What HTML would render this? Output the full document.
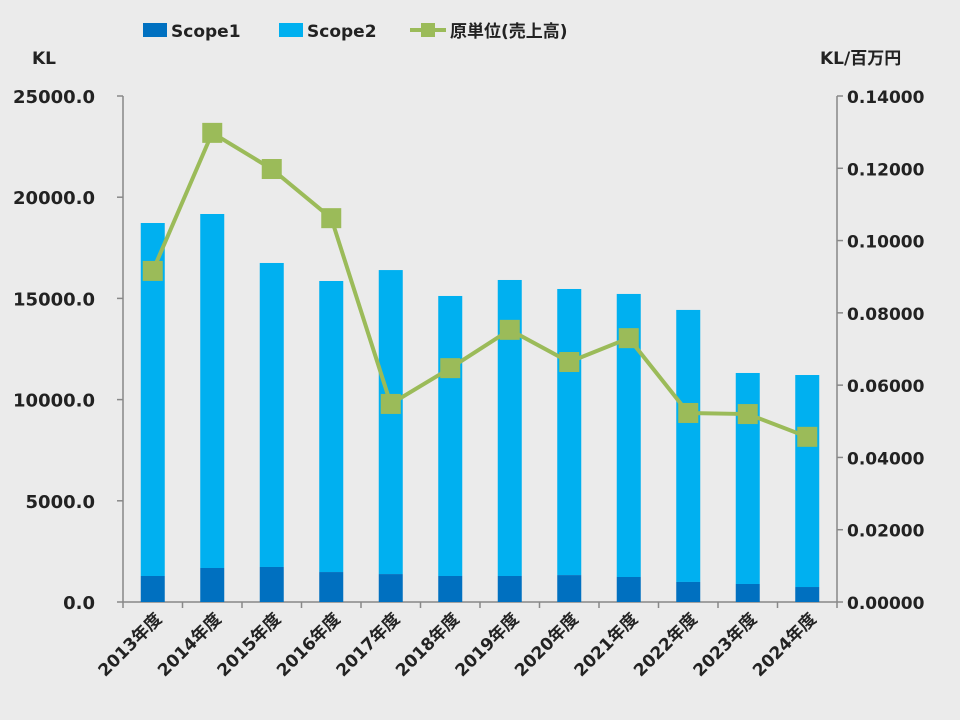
<!DOCTYPE html>
<html><head><meta charset="utf-8">
<style>
html,body{margin:0;padding:0;background:#ebebeb;}
svg{display:block;font-family:"DejaVu Sans","Noto Sans CJK JP",sans-serif;}
</style></head>
<body>
<svg id="chart" width="960" height="720" viewBox="0 0 960 720">
<rect width="960" height="720" fill="#ebebeb"/>
<g id="legend">
 <g>
  <rect x="143" y="23" width="24" height="14" fill="#0070c0"/>
  <text x="171" y="37" font-size="17" font-weight="bold" fill="#222">Scope1</text>
 </g>
 <g>
  <rect x="279" y="23" width="24" height="14" fill="#00b0f0"/>
  <text x="307" y="37" font-size="17" font-weight="bold" fill="#222">Scope2</text>
 </g>
 <g>
  <line x1="410" y1="30" x2="446" y2="30" stroke="#9bbb59" stroke-width="4"/>
  <rect x="421" y="23" width="14" height="14" fill="#9bbb59"/>
  <text x="450" y="37" font-size="17" font-weight="bold" fill="#222">原単位(売上高)</text>
 </g>
</g>
<text x="32" y="64" font-size="17" font-weight="bold" fill="#222">KL</text>
<text x="820" y="64" font-size="17" font-weight="bold" fill="#222">KL/百万円</text>
<g id="axes"></g>
<g id="bars"></g>
<g id="line"></g>
<g id="xlabels"></g>
</svg>
<script>
const categories=["2013年度","2014年度","2015年度","2016年度","2017年度","2018年度","2019年度","2020年度","2021年度","2022年度","2023年度","2024年度"];
const scope1=[1285,1680,1730,1480,1380,1285,1285,1330,1235,990,890,740];
const totals=[18725,19170,16750,15860,16400,15120,15910,15465,15220,14430,11315,11215];
const intensity=[0.0916,0.1298,0.1198,0.1062,0.0548,0.0647,0.0753,0.0664,0.0730,0.0523,0.0520,0.0457];
const leftTicks=[0,5000,10000,15000,20000,25000];
const rightTicks=[0,0.02,0.04,0.06,0.08,0.10,0.12,0.14];

const NS="http://www.w3.org/2000/svg";
const X0=123,X1=837,Y0=602,Y1=96;
const yL=v=>Y0-(v/25000)*(Y0-Y1);
const yR=v=>Y0-(v/0.14)*(Y0-Y1);
const step=(X1-X0)/categories.length;
const xC=i=>X0+step*(i+0.5);
function mk(tag,attrs,parent){const e=document.createElementNS(NS,tag);for(const k in attrs)e.setAttribute(k,attrs[k]);parent.appendChild(e);return e;}

const axes=document.getElementById('axes');
let a=mk('line',{x1:X0,y1:Y1,x2:X0,y2:Y0,stroke:'#888','stroke-width':1.5},axes);


a=mk('line',{x1:X1,y1:Y1,x2:X1,y2:Y0,stroke:'#888','stroke-width':1.5},axes);


a=mk('line',{x1:X0,y1:Y0,x2:X1,y2:Y0,stroke:'#888','stroke-width':1.5},axes);


leftTicks.forEach(v=>{
 const y=yL(v);
 mk('line',{x1:X0-6,y1:y,x2:X0,y2:y,stroke:'#888','stroke-width':1.5},axes);
 const t=mk('text',{x:95,y:y+7,'text-anchor':'end','font-size':18,'font-weight':'bold',fill:'#222'},axes);
 t.textContent=v.toFixed(1);
 
 
});
rightTicks.forEach(v=>{
 const y=yR(v);
 mk('line',{x1:X1,y1:y,x2:X1+6,y2:y,stroke:'#888','stroke-width':1.5},axes);
 const t=mk('text',{x:847,y:y+7,'font-size':17,'font-weight':'bold',fill:'#222'},axes);
 t.textContent=v.toFixed(5);
 
 
});
for(let i=0;i<=categories.length;i++){
 mk('line',{x1:X0+step*i,y1:Y0,x2:X0+step*i,y2:Y0+6,stroke:'#888','stroke-width':1.5},axes);
}
const bars=document.getElementById('bars');
const BW=24;
categories.forEach((c,i)=>{
 const x=xC(i)-BW/2;
 const r2=mk('rect',{x:x,y:yL(totals[i]),width:BW,height:yL(scope1[i])-yL(totals[i]),fill:'#00b0f0'},bars);
 
 
 const r1=mk('rect',{x:x,y:yL(scope1[i]),width:BW,height:Y0-yL(scope1[i]),fill:'#0070c0'},bars);
 
 
 const t=mk('text',{transform:`translate(${xC(i)+10},${Y0+18}) rotate(-45)`,'text-anchor':'end','font-size':17,'font-weight':'bold',fill:'#222'},document.getElementById('xlabels'));
 t.textContent=c;
 
 
});
const lg=document.getElementById('line');
const pl=mk('polyline',{points:intensity.map((v,i)=>xC(i)+','+yR(v)).join(' '),fill:'none',stroke:'#9bbb59','stroke-width':4},lg);


intensity.forEach((v,i)=>{
 const m=mk('rect',{x:xC(i)-10,y:yR(v)-10,width:20,height:20,fill:'#9bbb59'},lg);
 
 
});
</script>
</body></html>
